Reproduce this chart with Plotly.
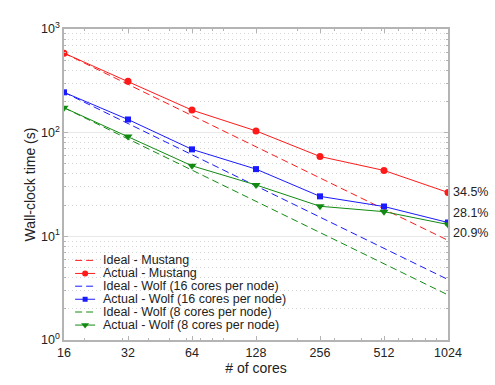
import math

import plotly.graph_objects as go

cores = [16, 32, 64, 128, 256, 512, 1024]

mustang_actual = [585, 313, 165, 104, 58.9, 43.2, 26.5]
wolf16_actual = [245, 134, 69, 44.5, 24.3, 19.4, 13.6]
wolf8_actual = [174, 91.6, 47.9, 31.3, 19.5, 17.3, 13.0]

ideal_cores = [16, 1024]
mustang_ideal = [585, 9.14]
wolf16_ideal = [245, 3.83]
wolf8_ideal = [174, 2.72]

efficiency_labels = ["34.5%", "28.1%", "20.9%"]

y_tickvals = [1, 10, 100, 1000]
y_ticktext = ["10<sup>0</sup>", "10<sup>1</sup>", "10<sup>2</sup>", "10<sup>3</sup>"]

RED = "#ff1a1a"
BLUE = "#1a1aff"
GREEN = "#128a12"
DASH = "7px,4px"
FONT = "Liberation Sans, Arial, sans-serif"
AXIS_GRAY = "#b4b4b4"
TEXT = "#222222"

series = [
    ("Mustang", mustang_ideal, mustang_actual, RED, "circle", 7),
    ("Wolf (16 cores per node)", wolf16_ideal, wolf16_actual, BLUE, "square", 6),
    ("Wolf (8 cores per node)", wolf8_ideal, wolf8_actual, GREEN, "triangle-down", 8),
]

fig = go.Figure()
for name, ideal, actual, color, symbol, size in series:
    fig.add_trace(go.Scatter(x=ideal_cores, y=ideal, mode="lines",
                             line=dict(color=color, width=1, dash=DASH),
                             name="Ideal - " + name))
    fig.add_trace(go.Scatter(x=cores, y=actual, mode="lines+markers",
                             line=dict(color=color, width=1),
                             marker=dict(color=color, symbol=symbol, size=size),
                             name="Actual - " + name))

# parallel efficiency next to the 1024-core point (nudged apart where they crowd)
label_shifts = [0, 9, -8]
for (name, ideal, actual, color, symbol, size), text, dy in zip(series, efficiency_labels, label_shifts):
    fig.add_annotation(xref="x", yref="y", x=math.log10(cores[-1]), y=math.log10(actual[-1]),
                       text=text, showarrow=False, xanchor="left", yanchor="middle",
                       xshift=3, yshift=dy, font=dict(size=12.5, color=TEXT, family=FONT))

# compact legend drawn on a hidden overlay axis (plotly's own legend rows are too tall)
legend_rows = [0.256, 0.214, 0.173, 0.131, 0.090, 0.048]
legend_entries = []
for name, ideal, actual, color, symbol, size in series:
    legend_entries.append(("Ideal - " + name, color, DASH, None, size))
    legend_entries.append(("Actual - " + name, color, "solid", symbol, size))
for row, (label, color, dash, symbol, size) in zip(legend_rows, legend_entries):
    fig.add_trace(go.Scatter(x=[0.029, 0.081], y=[row, row], xaxis="x2", yaxis="y2",
                             mode="lines", line=dict(color=color, width=1, dash=dash),
                             hoverinfo="skip"))
    if symbol:
        fig.add_trace(go.Scatter(x=[0.055], y=[row], xaxis="x2", yaxis="y2", mode="markers",
                                 marker=dict(color=color, symbol=symbol, size=size - 1),
                                 hoverinfo="skip"))
    fig.add_annotation(xref="x2", yref="y2", x=0.097, y=row, text=label, showarrow=False,
                       xanchor="left", yanchor="middle",
                       font=dict(size=12.5, color=TEXT, family=FONT))

y_minor = [k * 10 ** d for d in range(3) for k in range(2, 10)]
x_minor = [k * 10 ** d for d in (1, 2) for k in range(2, 10)]
x_minor = [v for v in x_minor if 16 < v < 1024]

fig.update_layout(
    width=495, height=385,
    margin=dict(l=64, r=47, t=29, b=43),
    paper_bgcolor="white", plot_bgcolor="white",
    showlegend=False,
    font=dict(family=FONT, size=12, color=TEXT),
    xaxis=dict(
        type="log", range=[math.log10(16), math.log10(1024)],
        tickvals=cores, ticktext=[str(c) for c in cores],
        ticks="inside", ticklen=4, tickcolor=AXIS_GRAY,
        showline=True, linecolor=AXIS_GRAY, linewidth=1.5, mirror="ticks",
        showgrid=False, zeroline=False,
        minor=dict(tickvals=x_minor, ticks="inside", ticklen=2, tickcolor=AXIS_GRAY, showgrid=False),
        title=dict(text="# of cores", font=dict(size=14), standoff=3),
        tickfont=dict(size=12.5, color=TEXT),
    ),
    yaxis=dict(
        type="log", range=[0, 3],
        tickvals=y_tickvals, ticktext=y_ticktext,
        ticks="inside", ticklen=4, tickcolor=AXIS_GRAY,
        showline=True, linecolor=AXIS_GRAY, linewidth=1.5, mirror="ticks",
        showgrid=True, gridcolor="#e8e8e8", gridwidth=1, zeroline=False,
        minor=dict(tickvals=y_minor, ticks="inside", ticklen=2, tickcolor=AXIS_GRAY,
                   showgrid=True, gridcolor="#d6d6d6", griddash="1px,3px", gridwidth=1),
        title=dict(text="Wall-clock time (s)", font=dict(size=14), standoff=2),
        tickfont=dict(size=12.5, color=TEXT),
    ),
    xaxis2=dict(overlaying="x", range=[0, 1], visible=False, fixedrange=True),
    yaxis2=dict(overlaying="y", range=[0, 1], visible=False, fixedrange=True),
)

fig.write_html("out.html", config={"displayModeBar": False},
               post_script="document.body.style.margin = '0';")
